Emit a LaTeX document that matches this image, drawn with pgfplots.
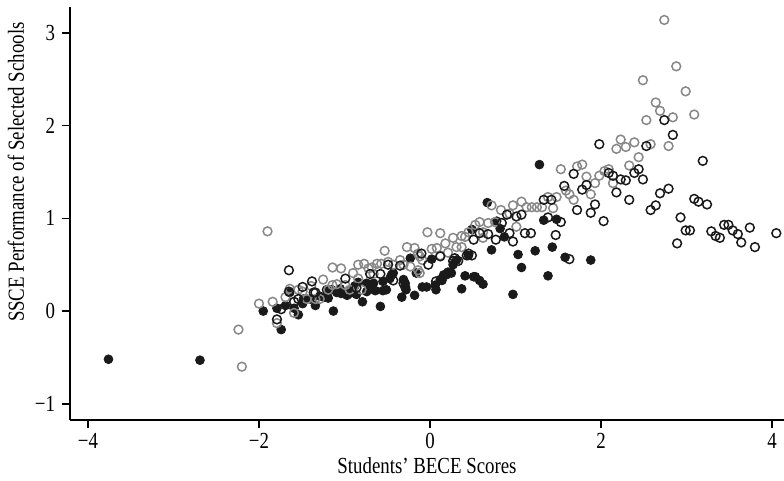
\documentclass[border=0pt]{standalone}
\usepackage{fontspec}
\setmainfont{Liberation Serif}[FakeStretch=0.82]
\usepackage{pgfplots}
\pgfplotsset{compat=1.18}
\definecolor{dk}{HTML}{1A1A1A}
\definecolor{gr}{HTML}{888888}

\begin{document}
\begin{tikzpicture}
\begin{axis}[
    scale only axis,
    width=357pt, height=206.5pt,
    xmin=-4.21, xmax=4.14,
    ymin=-1.175, ymax=3.28,
    axis lines=left,
    axis line style={-, line width=0.8pt},
    tick align=outside,
    major tick length=4pt,
    tick style={line width=0.8pt, black},
    xtick={-4,-2,0,2,4}, xticklabels={−4,−2,0,2,4},
    ytick={-1,0,1,2,3}, yticklabels={−1,0,1,2,3},
    ticklabel style={font=\fontsize{11.5}{13}\selectfont},
    xticklabel style={yshift=1pt},
    label style={font=\fontsize{11.5}{13}\selectfont},
    xlabel={Students’ BECE Scores},
    ylabel={SSCE Performance of Selected Schools},
    xlabel style={at={(axis description cs:0.5,0)}, anchor=base, yshift=-27pt},
    ylabel style={at={(axis description cs:-0.0756,0.60)}, anchor=center},
    clip=false,
]

% black filled
\addplot[only marks, mark=*, mark size=2.2pt, mark options={draw=dk, fill=dk}] coordinates {
(-3.76,-0.52) (-2.69,-0.53) (-1.95,0.00) (-1.79,0.03) (-1.69,0.06) (-1.74,-0.20)
(-1.64,0.20) (-1.59,0.03) (-1.54,-0.04) (-1.49,0.08) (-1.48,0.13) (-1.40,0.13)
(-1.34,0.06) (-1.29,0.16) (-1.24,0.15) (-1.19,0.14) (-1.13,0.00) (-1.21,0.23)
(-1.15,0.23) (-1.09,0.20) (-1.05,0.24) (-1.04,0.19) (-0.97,0.17) (-0.94,0.19)
(-0.92,0.23) (-0.88,0.27) (-0.86,0.18) (-0.84,0.31) (-0.79,0.10) (-0.74,0.30)
(-0.74,0.21) (-0.68,0.24) (-0.66,0.30) (-0.64,0.22) (-0.58,0.05) (-0.55,0.32)
(-0.55,0.22) (-0.51,0.23) (-0.47,0.35) (-0.45,0.39) (-0.43,0.41) (-0.33,0.15)
(-0.31,0.34) (-0.29,0.30) (-0.28,0.23) (-0.23,0.57) (-0.18,0.17) (-0.16,0.41)
(-0.09,0.26) (-0.04,0.26) (0.02,0.56) (0.06,0.28) (0.07,0.23) (0.12,0.34)
(0.14,0.33) (0.16,0.39) (0.19,0.39) (0.21,0.42) (0.25,0.41) (0.27,0.50)
(0.31,0.55) (0.37,0.24) (0.41,0.38) (0.45,0.60) (0.49,0.88) (0.51,0.37)
(0.53,0.37) (0.58,0.33) (0.62,0.29) (0.67,1.17) (0.72,0.66) (0.78,0.97)
(0.82,0.89) (0.87,0.80) (0.97,0.18) (1.03,0.61) (1.07,0.47) (1.23,0.65)
(1.28,1.58) (1.33,0.98) (1.38,0.38) (1.43,0.69) (1.48,0.99) (1.58,0.58)
(1.88,0.55)
};

% gray open
\addplot[only marks, mark=o, mark size=2.2pt, mark options={draw=gr, line width=0.75pt}] coordinates {
(-2.20,-0.60) (-2.24,-0.20) (-2.00,0.08) (-1.90,0.86) (-1.84,0.10) (-1.79,-0.13)
(-1.69,0.15) (-1.64,0.24) (-1.59,-0.02) (-1.54,0.23) (-1.49,0.21) (-1.44,0.13)
(-1.39,0.27) (-1.34,0.13) (-1.29,0.13) (-1.25,0.34) (-1.19,0.23) (-1.14,0.47)
(-1.14,0.28) (-1.09,0.29) (-1.04,0.46) (-0.99,0.28) (-0.94,0.23) (-0.90,0.41)
(-0.84,0.50) (-0.84,0.35) (-0.80,0.23) (-0.77,0.51) (-0.72,0.46) (-0.68,0.47)
(-0.66,0.40) (-0.62,0.51) (-0.57,0.51) (-0.53,0.65) (-0.49,0.53) (-0.43,0.50)
(-0.35,0.55) (-0.31,0.50) (-0.27,0.69) (-0.23,0.48) (-0.18,0.68) (-0.14,0.62)
(-0.14,0.44) (-0.12,0.41) (-0.12,0.59) (-0.09,0.55) (-0.03,0.85) (0.02,0.67)
(0.08,0.68) (0.12,0.84) (0.12,0.60) (0.18,0.73) (0.21,0.63) (0.27,0.79)
(0.31,0.69) (0.37,0.81) (0.37,0.69) (0.41,0.80) (0.45,0.85) (0.53,0.93)
(0.58,0.96) (0.62,0.85) (0.62,0.79) (0.68,0.95) (0.72,1.14) (0.76,0.96)
(0.83,1.09) (0.93,1.05) (0.97,1.14) (1.01,0.91) (1.07,1.18) (1.13,1.12)
(1.19,1.12) (1.25,1.12) (1.31,1.12) (1.38,1.23) (1.44,1.11) (1.48,1.23)
(1.53,1.53) (1.59,1.30) (1.63,1.26) (1.68,1.20) (1.72,1.56) (1.78,1.58)
(1.83,1.45) (1.88,1.26) (1.93,1.38) (1.98,1.46) (2.04,1.51) (2.09,1.53)
(2.14,1.38) (2.18,1.75) (2.23,1.85) (2.29,1.77) (2.33,1.57) (2.39,1.82)
(2.44,1.66) (2.49,2.49) (2.53,2.06) (2.58,1.80) (2.64,2.25) (2.69,2.16)
(2.74,3.14) (2.79,1.78) (2.84,2.09) (2.88,2.64) (2.99,2.37) (3.09,2.12)
};

% black open
\addplot[only marks, mark=o, mark size=2.2pt, mark options={draw=dk, line width=0.75pt}] coordinates {
(-1.65,0.44) (-1.79,-0.09) (-1.74,0.02) (-1.65,0.21) (-1.59,0.10) (-1.54,0.13)
(-1.49,0.26) (-1.38,0.32) (-1.36,0.20) (-1.34,0.20) (-0.99,0.35) (-0.86,0.25)
(-0.70,0.40) (-0.58,0.40) (-0.49,0.50) (-0.43,0.33) (-0.35,0.49) (-0.31,0.30)
(-0.29,0.26) (-0.10,0.62) (-0.02,0.50) (0.07,0.32) (0.12,0.59) (0.27,0.54)
(0.29,0.57) (0.33,0.54) (0.43,0.60) (0.45,0.62) (0.49,0.60) (0.51,0.77)
(0.58,0.84) (0.68,0.83) (0.77,0.77) (0.84,0.95) (0.90,1.04) (0.93,0.84)
(0.97,0.75) (1.01,1.02) (1.07,1.04) (1.11,0.84) (1.18,0.84) (1.33,1.20)
(1.38,1.01) (1.42,1.20) (1.47,0.82) (1.53,0.96) (1.57,1.35) (1.63,0.56)
(1.68,1.48) (1.72,1.09) (1.78,1.31) (1.83,1.36) (1.88,1.06) (1.93,1.15)
(1.98,1.80) (2.03,0.97) (2.09,1.49) (2.14,1.46) (2.18,1.28) (2.23,1.42)
(2.29,1.41) (2.33,1.20) (2.39,1.49) (2.44,1.53) (2.49,1.42) (2.53,1.78)
(2.58,1.09) (2.64,1.14) (2.69,1.27) (2.74,2.06) (2.79,1.32) (2.84,1.90)
(2.89,0.73) (2.93,1.01) (2.99,0.87) (3.04,0.87) (3.09,1.21) (3.14,1.18)
(3.19,1.62) (3.24,1.15) (3.29,0.86) (3.34,0.81) (3.39,0.79) (3.44,0.93)
(3.49,0.93) (3.54,0.87) (3.60,0.83) (3.64,0.74) (3.74,0.90) (3.80,0.69)
(4.05,0.84)
};

\end{axis}
\pgfresetboundingbox
\path[use as bounding box] (current axis.south west) ++(-35pt,-30.5pt) rectangle ([yshift=3.5pt]current axis.north east);
\end{tikzpicture}
\end{document}
